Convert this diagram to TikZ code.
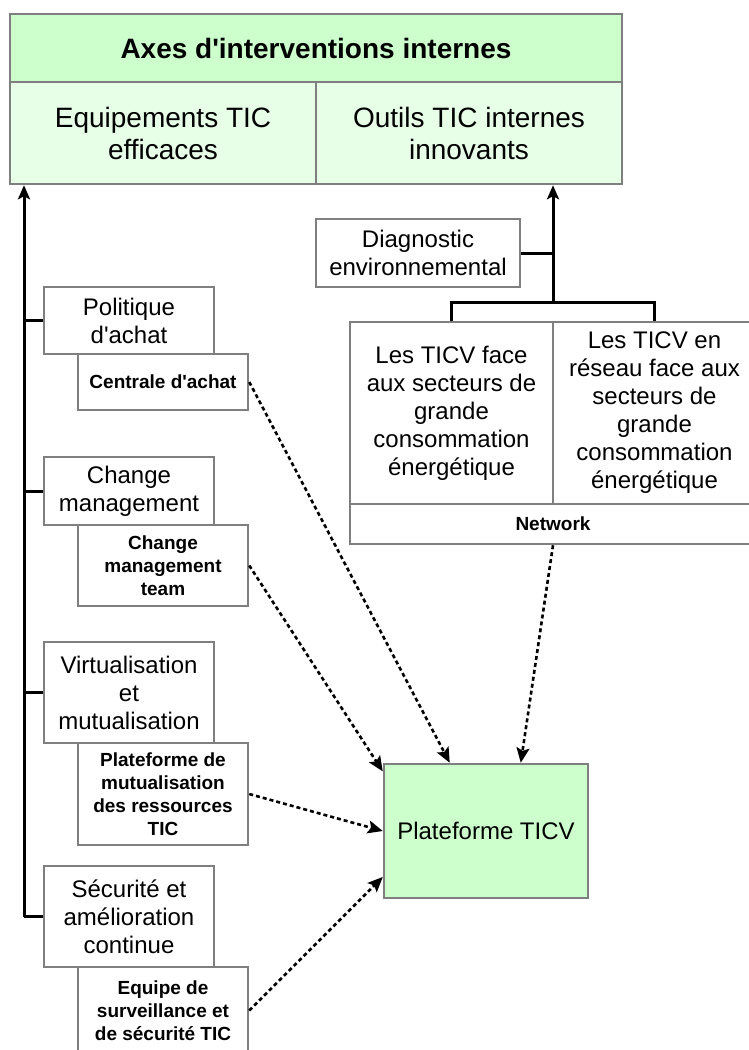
\documentclass[tikz,border=0pt]{standalone}
\usepackage{fontspec}
\setmainfont{Liberation Sans}
\usetikzlibrary{arrows.meta}
\definecolor{boxgray}{HTML}{7F7F7F}
\definecolor{headgreen}{HTML}{CCFFCC}
\definecolor{cellgreen}{HTML}{E6FFE6}
\newcommand\hdfont{\fontsize{28}{32}\selectfont}
\newcommand\boxfont{\fontsize{24}{28}\selectfont}
\newcommand\smfont{\fontsize{19}{23}\selectfont}
\newcommand\apo{\textquotesingle}
\begin{document}
\begin{tikzpicture}[x=1pt,y=-1pt,
        box/.style={draw=boxgray,line width=2.5pt,fill=white,align=center,inner sep=0pt,font=\boxfont},
        subbox/.style={box,font=\smfont\bfseries},
        link/.style={line width=3pt},
        linkto/.style={link,-{Stealth[length=14pt,width=12pt,inset=3pt]}},
        dep/.style={line width=2.6pt,dash pattern=on 4pt off 3pt,-{Stealth[length=15pt,width=13pt,inset=3pt]}}]
                \useasboundingbox (0,0) rectangle (749,1050);

                \node[box,fill=headgreen,font=\hdfont\bfseries,minimum width=612pt,minimum height=68pt] (axes) at (316,48) {Axes d\apo interventions internes};
                \node[box,fill=cellgreen,font=\hdfont,minimum width=306pt,minimum height=102pt] (equ) at (163,133) {Equipements TIC\\efficaces};
                \node[box,fill=cellgreen,font=\hdfont,minimum width=306pt,minimum height=102pt] (out) at (469,133) {Outils TIC internes\\innovants};

                \node[box,minimum width=170pt,minimum height=67pt] (pol) at (129,320.5) {Politique\\d\apo achat};
                \node[subbox,minimum width=170pt,minimum height=56pt] (cen) at (163,382) {Centrale d\apo achat};
                \node[box,minimum width=170pt,minimum height=68pt] (chg) at (129,491) {Change\\management};
                \node[subbox,minimum width=170pt,minimum height=81pt] (cmt) at (163,565.5) {Change\\management\\team};
                \node[box,minimum width=170pt,minimum height=101pt] (vir) at (129,692.5) {Virtualisation\\et\\mutualisation};
                \node[subbox,minimum width=170pt,minimum height=102pt] (pmr) at (163,794) {Plateforme de\\mutualisation\\des ressources\\TIC};
                \node[box,minimum width=170pt,minimum height=101pt] (sec) at (129,916.5) {Sécurité et\\amélioration\\continue};
                \node[subbox,minimum width=170pt,minimum height=87pt] (eqp) at (163,1010.5) {Equipe de\\surveillance et\\de sécurité TIC};

                \node[box,minimum width=204pt,minimum height=68pt] (diag) at (418,253) {Diagnostic\\environnemental};
                \node[box,minimum width=203pt,minimum height=182pt] (ticv) at (451.5,413) {Les TICV face\\aux secteurs de\\grande\\consommation\\énergétique};
                \node[box,minimum width=203pt,minimum height=182pt] (ticvr) at (654.5,413) {Les TICV en\\réseau face aux\\secteurs de\\grande\\consommation\\énergétique};
                \node[subbox,minimum width=406pt,minimum height=40pt] (net) at (553,524) {Network};

                \node[box,fill=headgreen,minimum width=204pt,minimum height=134pt] (ptf) at (486,831) {Plateforme TICV};

                \coordinate (lb) at (24,916.5);
                \draw[linkto] (lb) -- (lb |- equ.south);
                \draw[link] (pol.west) -- (pol.west -| lb);
                \draw[link] (chg.west) -- (chg.west -| lb);
                \draw[link] (vir.west) -- (vir.west -| lb);
                \draw[link] (sec.west) -- (sec.west -| lb);

                \coordinate (rb) at (553,302);
                \draw[linkto] (rb) -- (rb |- out.south);
                \draw[link] (diag.east) -- (diag.east -| rb);
                \draw[link] (ticv.north) |- (rb) -| (ticvr.north);

                \draw[dep] (cen.east) -- (ptf.118);
                \draw[dep] (cmt.east) -- (ptf.150);
                \draw[dep] (net.south) -- (ptf.63);
                \draw[dep] (pmr.east) -- (ptf.west);
                \draw[dep] (eqp.east) -- (ptf.204);
            \end{tikzpicture}
\end{document}
